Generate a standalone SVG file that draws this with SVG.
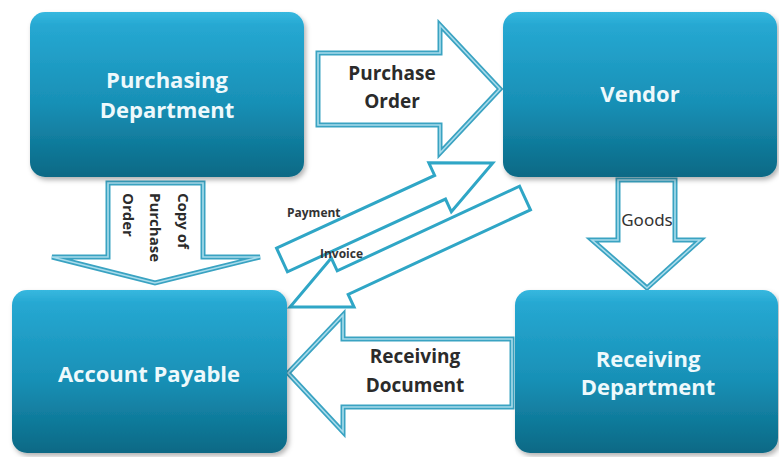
<svg xmlns="http://www.w3.org/2000/svg" width="779" height="457" viewBox="0 0 779 457">
<defs>
<linearGradient id="boxg" x1="0" y1="0" x2="0" y2="1">
<stop offset="0" stop-color="#37b8df"/>
<stop offset="0.08" stop-color="#26a8d2"/>
<stop offset="0.55" stop-color="#1890b6"/>
<stop offset="1" stop-color="#0a6985"/>
</linearGradient>
<filter id="sh" x="-10%" y="-10%" width="125%" height="125%">
<feDropShadow dx="2" dy="3" stdDeviation="2.5" flood-color="#000" flood-opacity="0.3"/>
</filter>
</defs>
<style>
.box{fill:url(#boxg);filter:url(#sh)}
.bt{font-family:"Open Sans","DejaVu Sans",sans-serif;font-weight:bold;font-size:22px;fill:#eef9fc;text-anchor:middle}
.lbl{font-family:"Open Sans","DejaVu Sans",sans-serif;font-weight:bold;font-size:19px;fill:#2b2b2b;text-anchor:middle}
.sm{font-family:"Open Sans","DejaVu Sans",sans-serif;font-weight:bold;font-size:12px;fill:#333}
.cp{font-family:"Open Sans","DejaVu Sans",sans-serif;font-weight:bold;font-size:15px;fill:#2b2b2b}
.gd{font-family:"Noto Sans","DejaVu Sans",sans-serif;font-size:17px;fill:#333;text-anchor:middle}
.big{fill:#fff;stroke:#3aa3c2;stroke-width:5;stroke-linejoin:miter}
.bigin{fill:none;stroke:#a9dcec;stroke-width:1.6;stroke-linejoin:miter}
.thin{fill:#fff;stroke:#2fa6c6;stroke-width:3;stroke-linejoin:miter}
</style>
<rect width="779" height="457" fill="#fff"/>
<g id="connectors">
<g id="purchase-order">
<polygon class="big" points="318,53 440,53 440,25 500,89 440,153 440,125 318,125"/>
<polygon class="bigin" points="318,53 440,53 440,25 500,89 440,153 440,125 318,125"/>
<text class="lbl" x="392" y="80">Purchase</text>
<text class="lbl" x="392" y="108">Order</text>
</g>
<g id="copy-po">
<polygon class="big" points="108,183 203,183 203,257 260,257 155,283 52,257 108,257"/>
<polygon class="bigin" points="108,183 203,183 203,257 260,257 155,283 52,257 108,257"/>
<text class="cp" transform="translate(178,193) rotate(90)">Copy of</text>
<text class="cp" transform="translate(150,193) rotate(90)">Purchase</text>
<text class="cp" transform="translate(123,193) rotate(90)">Order</text>
</g>
<g id="goods">
<polygon class="big" points="618,180 675,180 675,240 700,240 647,288 592,240 618,240"/>
<polygon class="bigin" points="618,180 675,180 675,240 700,240 647,288 592,240 618,240"/>
<text class="gd" x="647" y="226">Goods</text>
</g>
<g id="receiving-document">
<polygon class="big" points="512,339 343,339 343,315 288,373 343,432 343,407 512,407"/>
<polygon class="bigin" points="512,339 343,339 343,315 288,373 343,432 343,407 512,407"/>
<text class="lbl" x="415" y="363">Receiving</text>
<text class="lbl" x="415" y="392">Document</text>
</g>
<g id="invoice">
<polygon class="thin" transform="translate(525,198) rotate(155.1)" points="0,-13 201,-13 201,-27 259,0 201,27 201,13 0,13"/>
</g>
<g id="payment">
<polygon class="thin" transform="translate(282,260) rotate(-24.7)" points="0,-13 174,-13 174,-27 232,0 174,27 174,13 0,13"/>
</g>
<text class="sm" x="287" y="217">Payment</text>
<text class="sm" x="320" y="258">Invoice</text>
</g>
<g id="purchasing-department">
<rect class="box" x="30" y="12" width="274" height="165" rx="15"/>
<text class="bt" x="167" y="88">Purchasing</text>
<text class="bt" x="167" y="118">Department</text>
</g>
<g id="vendor">
<rect class="box" x="503" y="12" width="274" height="165" rx="15"/>
<text class="bt" x="640" y="102">Vendor</text>
</g>
<g id="account-payable">
<rect class="box" x="12" y="290" width="275" height="163" rx="15"/>
<text class="bt" x="149" y="382">Account Payable</text>
</g>
<g id="receiving-department">
<rect class="box" x="515" y="290" width="263" height="163" rx="15"/>
<text class="bt" x="648" y="367">Receiving</text>
<text class="bt" x="648" y="395">Department</text>
</g>
</svg>
